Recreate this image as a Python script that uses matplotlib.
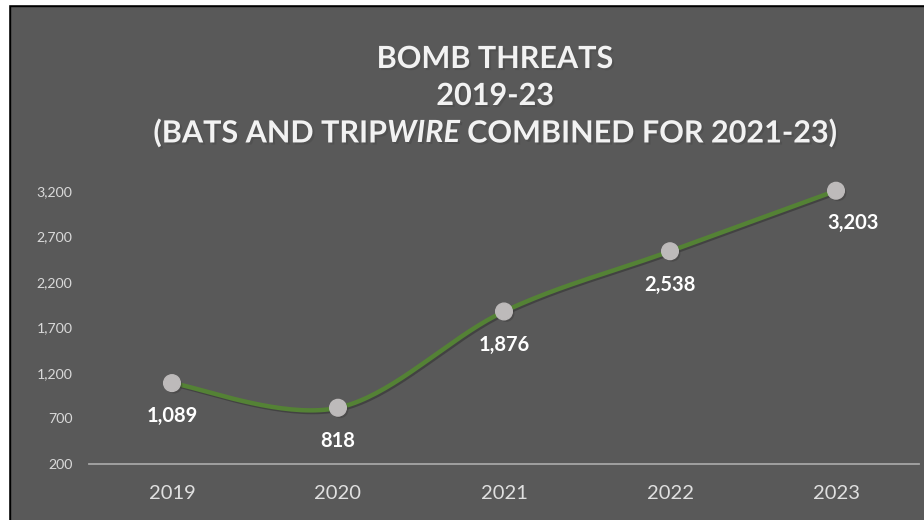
import numpy as np
import matplotlib
matplotlib.use("Agg")
import matplotlib.pyplot as plt
import matplotlib.patheffects as pe

years = ["2019", "2020", "2021", "2022", "2023"]
threats = [1089, 818, 1876, 2538, 3203]
yticks = [200, 700, 1200, 1700, 2200, 2700, 3200]
title_lines = ["BOMB THREATS", "2019-23"]
title_line3 = ["(BATS AND TRIP", "WIRE", " COMBINED FOR 2021-23)"]

BG = "#595959"
GREEN = "#548235"
MARK = "#bdbaba"
FONT = "Lato"

fig = plt.figure(figsize=(9.24, 5.2), dpi=100, facecolor=BG)
ax = fig.add_axes([0.0963, 0.1077, 0.8983, 0.525])
ax.set_facecolor(BG)

x = np.arange(len(years))
y = np.array(threats, dtype=float)

# Excel-style smoothed line (Catmull-Rom / Bezier through points)
def smooth(xp, yp, n=40):
    P = np.column_stack([xp, yp])
    P = np.vstack([P[0], P, P[-1]])
    out = []
    for i in range(1, len(P) - 2):
        p0, p1, p2, p3 = P[i - 1], P[i], P[i + 1], P[i + 2]
        c1 = p1 + (p2 - p0) / 6
        c2 = p2 - (p3 - p1) / 6
        t = np.linspace(0, 1, n)[:, None]
        seg = (1 - t) ** 3 * p1 + 3 * (1 - t) ** 2 * t * c1 + 3 * (1 - t) * t ** 2 * c2 + t ** 3 * p2
        out.append(seg if i == 1 else seg[1:])
    s = np.vstack(out)
    return s[:, 0], s[:, 1]

sx, sy = smooth(x, y)
shadow = [pe.SimpleLineShadow(offset=(1.2, -1.2), shadow_color="black", alpha=0.25), pe.Normal()]
ax.plot(sx, sy, color=GREEN, lw=3.2, solid_capstyle="round", path_effects=shadow, zorder=3, clip_on=False)
ax.plot(x, y, ls="none", marker="o", ms=12, mfc=MARK, mec=MARK, zorder=4, clip_on=False,
        path_effects=[pe.SimplePatchShadow(offset=(1.5, -1.5), alpha=0.4), pe.Normal()])

for i, v in enumerate(threats):
    if i == len(threats) - 1:
        ax.annotate(f"{v:,}", (x[i], y[i]), xytext=(12, -23), textcoords="offset points",
                    ha="center", va="center", color="white", fontsize=14.5, fontweight="bold", family=FONT)
    else:
        ax.annotate(f"{v:,}", (x[i], y[i]), xytext=(0, -24), textcoords="offset points",
                    ha="center", va="center", color="white", fontsize=14.5, fontweight="bold", family=FONT)

ax.set_xlim(-0.5, len(years) - 0.5)
ax.set_ylim(200, 3200)
ax.set_xticks(x)
ax.set_xticklabels(years, color="#e0e0e0", fontsize=14.5, family=FONT)
ax.set_yticks(yticks)
ax.set_yticklabels([f"{t:,}" for t in yticks], color="#d9d9d9", fontsize=10.2, family=FONT)
ax.tick_params(axis="both", length=0)
ax.tick_params(axis="x", pad=15)
ax.tick_params(axis="y", pad=12)
for s in ["top", "right", "left"]:
    ax.spines[s].set_visible(False)
ax.spines["bottom"].set_color("#a6a6a6")
ax.spines["bottom"].set_linewidth(1.3)

tshadow = [pe.withSimplePatchShadow(offset=(1.5, -1.5), alpha=0.5)]
cx = 495 / 924
TS = 22
fig.text(cx, 1 - 59 / 520, title_lines[0], ha="center", va="center", color="#f2f2f2",
         fontsize=TS, fontweight="bold", family=FONT, path_effects=tshadow)
fig.text(cx, 1 - 96 / 520, title_lines[1], ha="center", va="center", color="#f2f2f2",
         fontsize=TS, fontweight="bold", family=FONT, path_effects=tshadow)

# third line with italic part
fig.canvas.draw()
r = fig.canvas.get_renderer()
parts = []
styles = ["normal", "italic", "normal"]
for txt, st in zip(title_line3, styles):
    t = fig.text(0, 1 - 133 / 520, txt, ha="left", va="center", color="#f2f2f2", fontsize=TS,
                 fontweight="bold", style=st, family=FONT, path_effects=tshadow)
    parts.append(t)
widths = [p.get_window_extent(r).width for p in parts]
total = sum(widths)
start = cx * 924 - total / 2
for p, w in zip(parts, widths):
    p.set_x(start / 924)
    start += w

# black border on left and top
fig.patches.append(plt.Rectangle((8 / 924, 0), 2 / 924, 1 - 4 / 520, transform=fig.transFigure, color="black"))
fig.patches.append(plt.Rectangle((8 / 924, 1 - 6 / 520), 1, 2 / 520, transform=fig.transFigure, color="black"))
fig.patches.append(plt.Rectangle((0, 0), 8 / 924, 1, transform=fig.transFigure, color="white"))
fig.patches.append(plt.Rectangle((0, 1 - 4 / 520), 1, 4 / 520, transform=fig.transFigure, color="white"))

fig.savefig("out.png", dpi=100, facecolor=BG)
